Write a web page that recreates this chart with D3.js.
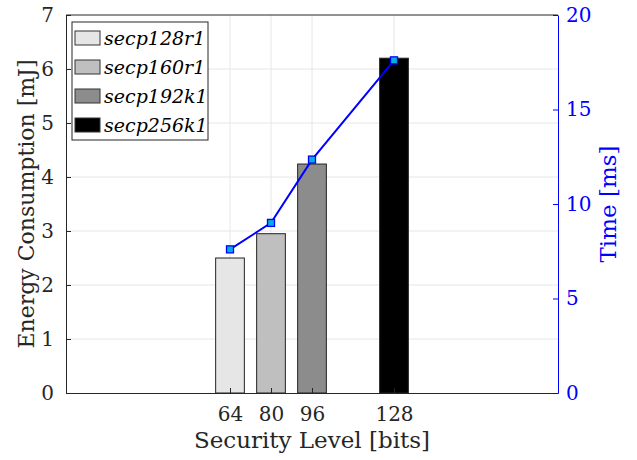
<!doctype html>
<html>
  <head>
    <meta charset="utf-8">
    <title>Energy and time per security level</title>
    <script src="https://cdnjs.cloudflare.com/ajax/libs/d3/7.8.5/d3.min.js"></script>
    <style>
      body { margin: 0; background: #fff; }
      svg text { font-family: "DejaVu Serif", "Liberation Serif", serif !important; }
    </style>
  </head>
  <body>
    <div id="chart"></div>
    <script>
      // data
      const levels = [64, 80, 96, 128];
      const curves = ['secp128r1', 'secp160r1', 'secp192k1', 'secp256k1'];
      const energy = [2.5, 2.95, 4.24, 6.2];      // mJ
      const timeMs = [7.6, 9.0, 12.35, 17.6];     // ms
      const energyTicks = [0, 1, 2, 3, 4, 5, 6, 7];
      const timeTicks = [0, 5, 10, 15, 20];

      const fills = ['#e6e6e6', '#bfbfbf', '#8c8c8c', '#000000'];
      const blue = '#0000ff';

      const W = 637, H = 460;
      const m = { left: 66, right: 79, top: 15, bottom: 67 };

      const svg = d3.select('#chart').append('svg')
        .attr('width', W).attr('height', H);

      const x = d3.scaleLinear().domain([0, 192]).range([m.left, W - m.right]);
      const yL = d3.scaleLinear().domain([0, 7]).range([H - m.bottom, m.top]);
      const yR = d3.scaleLinear().domain([0, 20]).range([H - m.bottom, m.top]);

      // grid
      const grid = svg.append('g').attr('stroke', '#e6e6e6').attr('stroke-width', 1);
      grid.selectAll('.gx').data(levels).join('line')
        .attr('x1', d => x(d)).attr('x2', d => x(d))
        .attr('y1', yL(0)).attr('y2', yL(7));
      grid.selectAll('.gy').data(energyTicks.slice(1, -1)).join('line')
        .attr('x1', x(0)).attr('x2', x(192))
        .attr('y1', d => yL(d)).attr('y2', d => yL(d));

      // bars
      const bw = 11.2;
      svg.append('g').selectAll('rect').data(levels).join('rect')
        .attr('x', d => x(d - bw / 2))
        .attr('width', x(bw) - x(0))
        .attr('y', (d, i) => yL(energy[i]))
        .attr('height', (d, i) => yL(0) - yL(energy[i]))
        .attr('fill', (d, i) => fills[i])
        .attr('stroke', '#222').attr('stroke-width', 1);

      const fmt = d3.format('d');

      // left axis
      const axL = svg.append('g').attr('transform', `translate(${m.left},0)`)
        .call(d3.axisLeft(yL).tickValues(energyTicks).tickFormat(fmt)
          .tickSizeInner(-5).tickSizeOuter(0).tickPadding(12));
      axL.attr('font-size', 20);
      axL.select('.domain').attr('stroke', '#262626');
      axL.selectAll('line').attr('stroke', '#262626');
      axL.selectAll('text').attr('fill', '#262626');

      // bottom axis
      const axB = svg.append('g').attr('transform', `translate(0,${yL(0)})`)
        .call(d3.axisBottom(x).tickValues(levels).tickFormat(fmt)
          .tickSizeInner(-5).tickSizeOuter(0).tickPadding(14));
      axB.attr('font-size', 20);
      axB.select('.domain').attr('stroke', '#262626');
      axB.selectAll('line').attr('stroke', '#262626');
      axB.selectAll('text').attr('fill', '#262626');

      // top border
      svg.append('line').attr('x1', x(0)).attr('x2', x(192))
        .attr('y1', yL(7)).attr('y2', yL(7)).attr('stroke', '#262626');

      // right axis
      const axR = svg.append('g').attr('transform', `translate(${W - m.right},0)`)
        .call(d3.axisRight(yR).tickValues(timeTicks).tickFormat(fmt)
          .tickSizeInner(-5).tickSizeOuter(0).tickPadding(8));
      axR.attr('font-size', 20);
      axR.select('.domain').attr('stroke', blue);
      axR.selectAll('line').attr('stroke', blue);
      axR.selectAll('text').attr('fill', blue);

      // time line
      const line = d3.line().x(d => x(d[0])).y(d => yR(d[1]));
      const pts = levels.map((d, i) => [d, timeMs[i]]);
      svg.append('path').datum(pts).attr('d', line)
        .attr('fill', 'none').attr('stroke', blue).attr('stroke-width', 2);
      svg.append('g').selectAll('rect').data(pts).join('rect')
        .attr('x', d => x(d[0]) - 3.5).attr('y', d => yR(d[1]) - 3.5)
        .attr('width', 7).attr('height', 7)
        .attr('fill', '#00b0e0').attr('stroke', blue).attr('stroke-width', 1.3);

      // axis titles
      svg.append('text')
        .attr('transform', `translate(34,${(yL(0) + yL(7)) / 2}) rotate(-90)`)
        .attr('text-anchor', 'middle')
        .attr('font-size', 22).attr('fill', '#262626')
        .text('Energy Consumption [mJ]');
      svg.append('text')
        .attr('x', (x(0) + x(192)) / 2).attr('y', 448)
        .attr('text-anchor', 'middle')
        .attr('font-size', 23).attr('fill', '#262626')
        .text('Security Level [bits]');
      svg.append('text')
        .attr('transform', `translate(616,${(yR(0) + yR(20)) / 2}) rotate(-90)`)
        .attr('text-anchor', 'middle')
        .attr('font-size', 23).attr('fill', blue)
        .text('Time [ms]');

      // legend
      const lg = svg.append('g').attr('transform', 'translate(72,22)');
      lg.append('rect').attr('width', 136).attr('height', 118)
        .attr('fill', '#fff').attr('stroke', '#262626').attr('stroke-width', 1);
      const items = lg.selectAll('g').data(curves).join('g')
        .attr('transform', (d, i) => `translate(3,${16 + i * 29})`);
      items.append('rect').attr('x', 0).attr('y', -7).attr('width', 25).attr('height', 14)
        .attr('fill', (d, i) => fills[i]).attr('stroke', '#333');
      items.append('text').attr('x', 29).attr('dy', '0.35em')
        .attr('font-size', 19).attr('font-style', 'italic').attr('fill', '#000')
        .text(d => d);
    </script>
  </body>
</html>
